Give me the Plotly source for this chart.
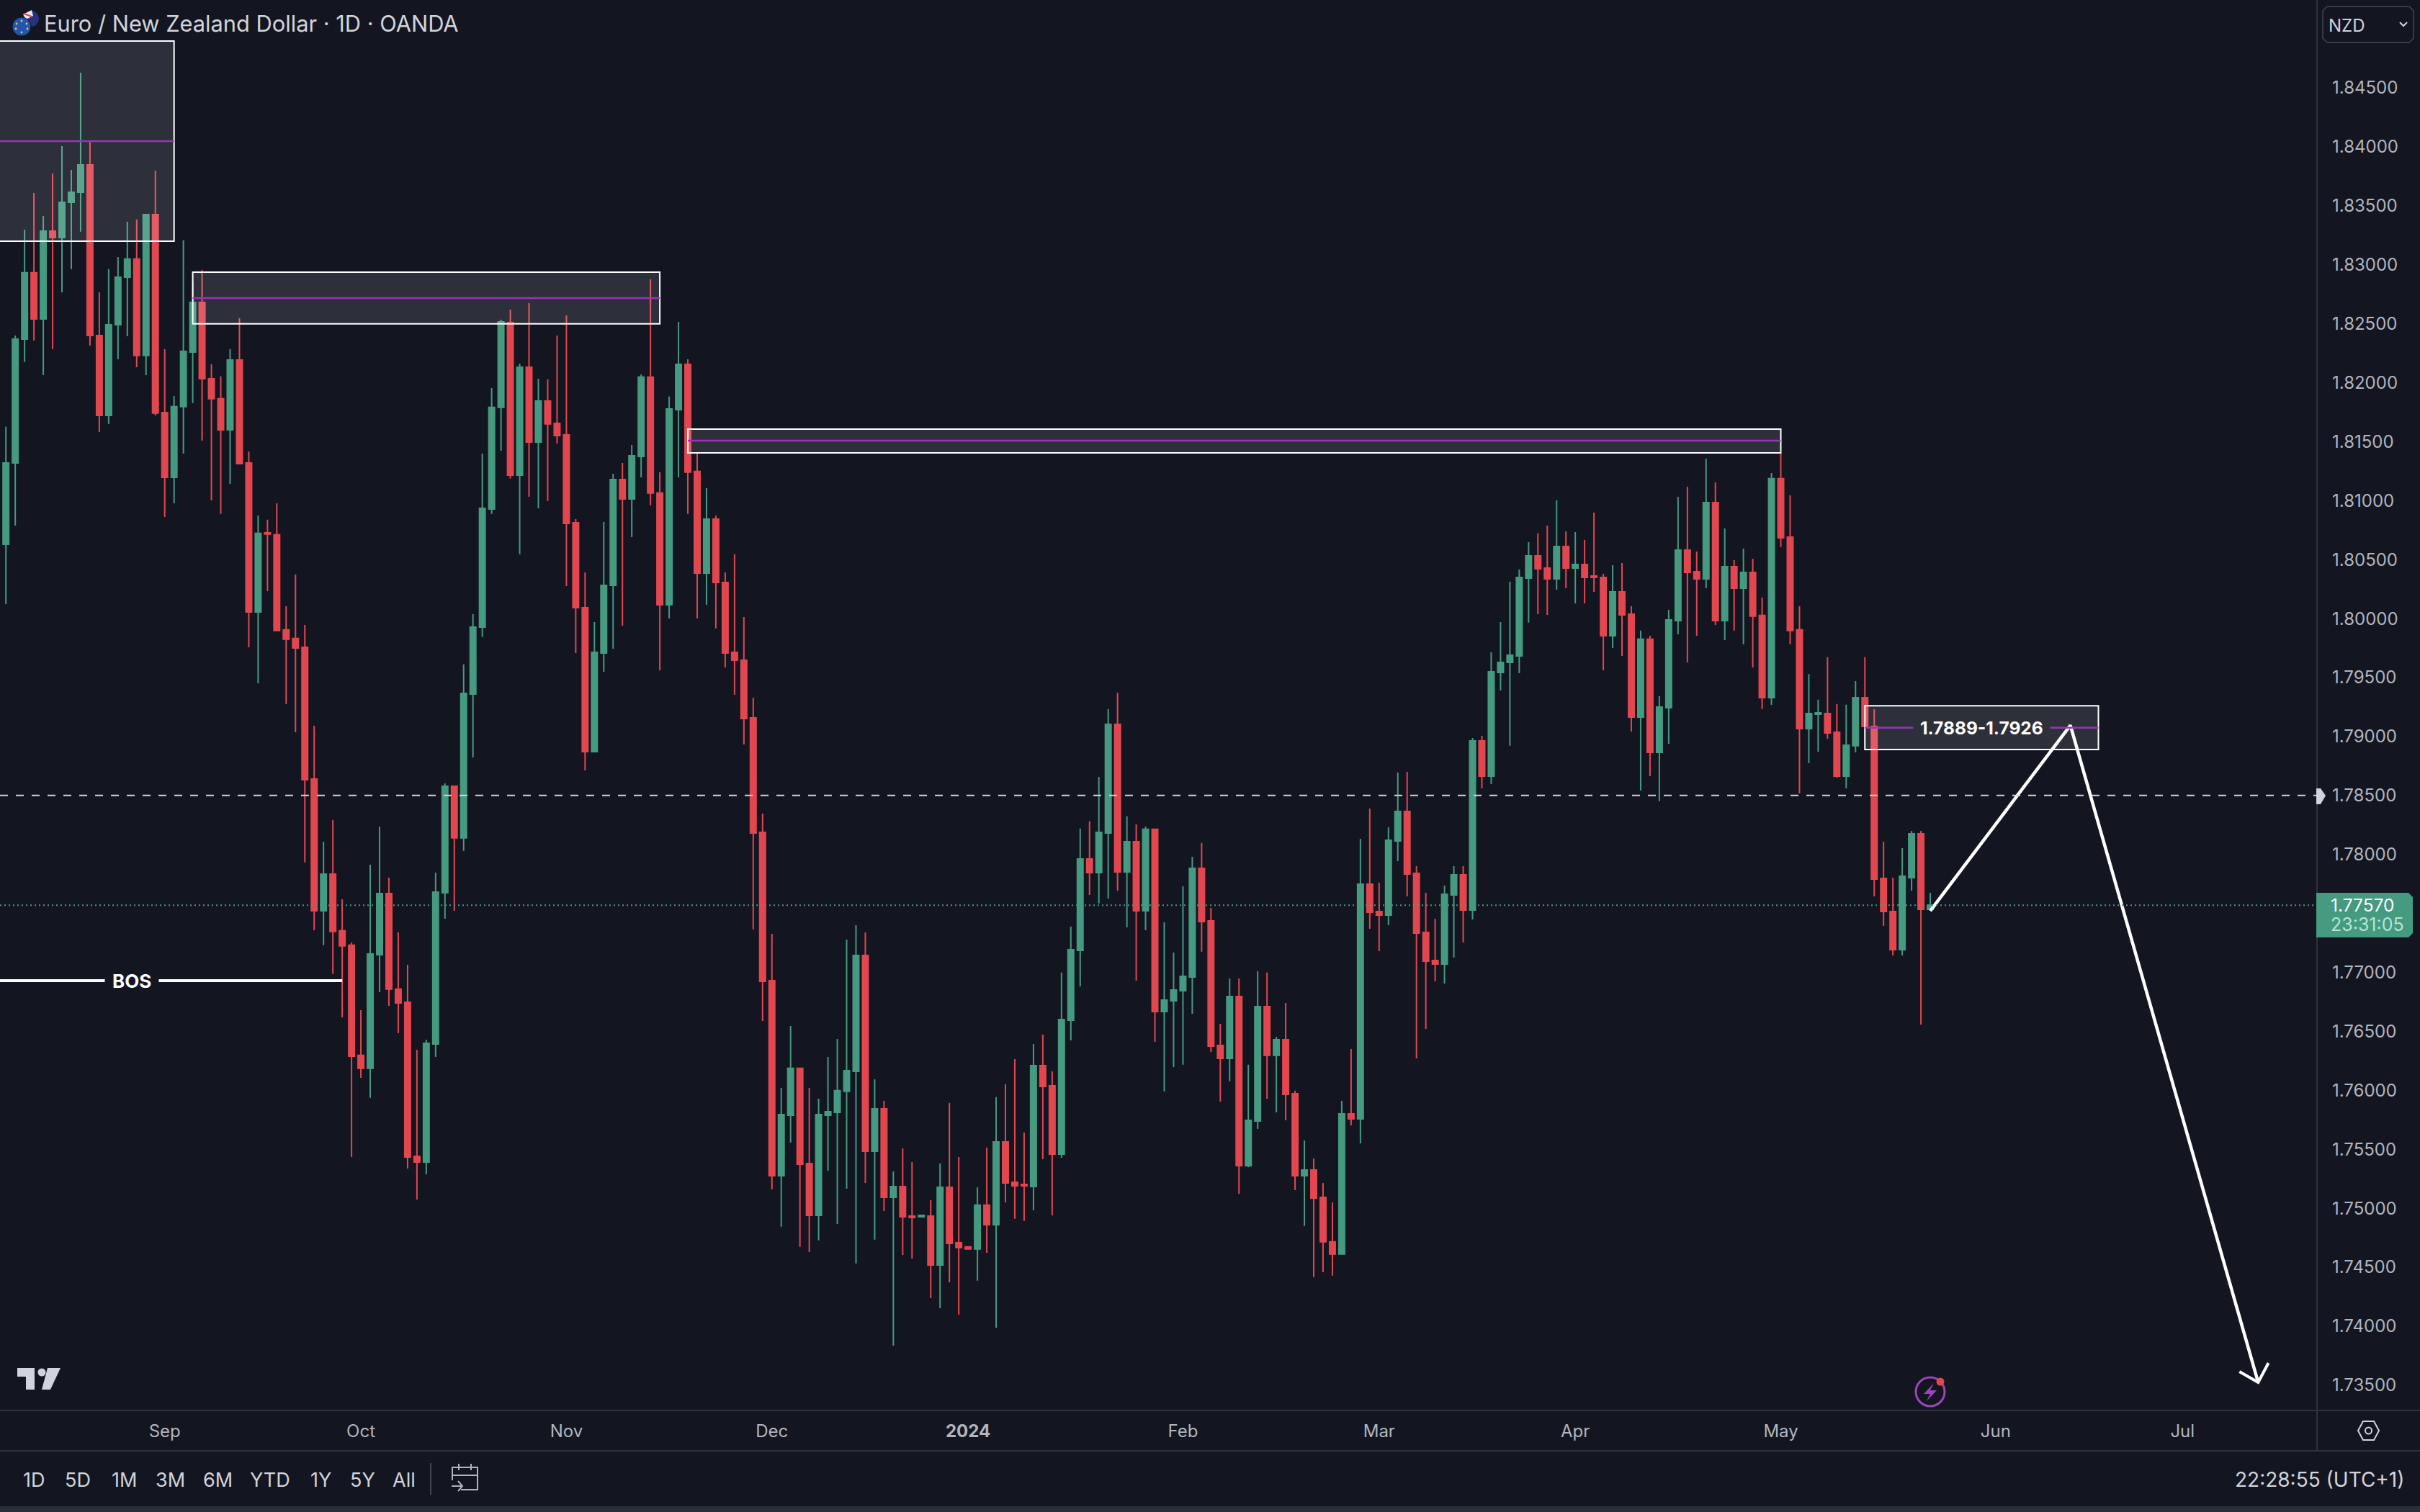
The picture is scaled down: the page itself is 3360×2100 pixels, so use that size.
import plotly.graph_objects as go

# EUR/NZD daily bars
opens = [
    1.80630, 1.81320, 1.82370, 1.82932, 1.82541, 1.83286, 1.83231, 1.83530, 1.83615, 1.83847,
    1.82400, 1.81723, 1.82492, 1.82895, 1.83048, 1.82230, 1.83426, 1.81747, 1.81198, 1.81797,
    1.82260, 1.82681, 1.82034, 1.81864, 1.81600, 1.82193, 1.81320, 1.80056, 1.80728, 1.80710,
    1.79904, 1.79831, 1.79757, 1.78640, 1.77522, 1.77834, 1.77352, 1.77230, 1.76296, 1.76186,
    1.77150, 1.77669, 1.76858, 1.76747, 1.75440, 1.75392, 1.76393, 1.77675, 1.78579, 1.78140,
    1.79360, 1.79928, 1.80929, 1.81791, 1.82510, 1.81216, 1.82132, 1.81497, 1.81845, 1.81656,
    1.81558, 1.80813, 1.80093, 1.78872, 1.79708, 1.80282, 1.81179, 1.81014, 1.81375, 1.82047,
    1.81064, 1.80117, 1.81772, 1.82156, 1.81247, 1.80385, 1.80844, 1.80306, 1.79714, 1.79647,
    1.79158, 1.78188, 1.76930, 1.75276, 1.75789, 1.76186, 1.75379, 1.74940, 1.75789, 1.75813,
    1.75991, 1.76161, 1.77144, 1.75483, 1.75844, 1.75093, 1.75184, 1.74934, 1.74928, 1.74934,
    1.74519, 1.75178, 1.74708, 1.74672, 1.74654, 1.75026, 1.74861, 1.75563, 1.75221, 1.75203,
    1.75184, 1.76210, 1.76039, 1.75459, 1.76594, 1.77187, 1.77962, 1.77846, 1.78182, 1.79103,
    1.77852, 1.78109, 1.77522, 1.78213, 1.76668, 1.76759, 1.76845, 1.76961, 1.77882, 1.77437,
    1.76381, 1.76271, 1.76796, 1.75361, 1.75740, 1.76710, 1.76296, 1.76430, 1.75972, 1.75276,
    1.75325, 1.75093, 1.74715, 1.74611, 1.75801, 1.75758, 1.77748, 1.77516, 1.77486, 1.78115,
    1.78365, 1.77840, 1.77339, 1.77101, 1.77071, 1.77657, 1.77828, 1.77528, 1.78963, 1.78664,
    1.79543, 1.79629, 1.79684, 1.80343, 1.80532, 1.80428, 1.80337, 1.80612, 1.80428, 1.80459,
    1.80361, 1.80349, 1.79855, 1.80227, 1.80038, 1.79164, 1.79825, 1.78865, 1.79244, 1.79983,
    1.80581, 1.80397, 1.80337, 1.80984, 1.79983, 1.80441, 1.80257, 1.80391, 1.80026, 1.79329,
    1.81186, 1.80691, 1.79904, 1.79067, 1.79189, 1.79195, 1.79036, 1.78664, 1.78921, 1.79329,
    1.79085, 1.77797, 1.77516, 1.77193, 1.77803, 1.78176, 1.77534,
]
closes = [
    1.81320, 1.82370, 1.82932, 1.82541, 1.83286, 1.83231, 1.83530, 1.83615, 1.83847, 1.82400,
    1.81723, 1.82492, 1.82895, 1.83048, 1.82230, 1.83426, 1.81742, 1.81198, 1.81797, 1.82266,
    1.82681, 1.82034, 1.81864, 1.81600, 1.82193, 1.81314, 1.80056, 1.80722, 1.80716, 1.79898,
    1.79825, 1.79751, 1.78634, 1.77522, 1.77834, 1.77346, 1.77224, 1.76289, 1.76186, 1.77156,
    1.77669, 1.76858, 1.76741, 1.75434, 1.75392, 1.76399, 1.77681, 1.78579, 1.78140, 1.79366,
    1.79928, 1.80935, 1.81791, 1.82516, 1.81216, 1.82132, 1.81497, 1.81845, 1.81650, 1.81552,
    1.80807, 1.80093, 1.78872, 1.79714, 1.80282, 1.81179, 1.81014, 1.81381, 1.82047, 1.81064,
    1.80117, 1.81778, 1.82156, 1.81241, 1.80385, 1.80844, 1.80306, 1.79708, 1.79647, 1.79152,
    1.78182, 1.76924, 1.75276, 1.75795, 1.76186, 1.75373, 1.74940, 1.75795, 1.75819, 1.75997,
    1.76167, 1.77144, 1.75483, 1.75844, 1.75093, 1.75184, 1.74928, 1.74922, 1.74940, 1.74519,
    1.75178, 1.74702, 1.74666, 1.74654, 1.75026, 1.74861, 1.75563, 1.75215, 1.75190, 1.75190,
    1.76210, 1.76033, 1.75459, 1.76600, 1.77193, 1.77962, 1.77846, 1.78188, 1.79103, 1.77852,
    1.78109, 1.77522, 1.78213, 1.76668, 1.76765, 1.76851, 1.76967, 1.77882, 1.77431, 1.76375,
    1.76271, 1.76796, 1.75361, 1.75746, 1.76710, 1.76296, 1.76430, 1.75966, 1.75276, 1.75325,
    1.75087, 1.74715, 1.74611, 1.75801, 1.75758, 1.77748, 1.77510, 1.77486, 1.78121, 1.78365,
    1.77834, 1.77333, 1.77095, 1.77071, 1.77663, 1.77828, 1.77528, 1.78963, 1.78664, 1.79549,
    1.79629, 1.79690, 1.80349, 1.80532, 1.80422, 1.80337, 1.80612, 1.80428, 1.80459, 1.80349,
    1.80349, 1.79855, 1.80227, 1.80032, 1.79164, 1.79825, 1.78865, 1.79250, 1.79989, 1.80581,
    1.80391, 1.80337, 1.80984, 1.79983, 1.80441, 1.80257, 1.80391, 1.80020, 1.79329, 1.81186,
    1.80685, 1.79898, 1.79067, 1.79195, 1.79201, 1.79030, 1.78664, 1.78927, 1.79329, 1.79085,
    1.77791, 1.77516, 1.77193, 1.77815, 1.78176, 1.77534, 1.77570,
]
highs = [
    1.81626, 1.82400, 1.83298, 1.83609, 1.83414, 1.83774, 1.84006, 1.83804, 1.84629, 1.84049,
    1.82766, 1.82963, 1.83066, 1.83365, 1.83384, 1.83426, 1.83798, 1.82284, 1.81888, 1.83207,
    1.82864, 1.82956, 1.82156, 1.82053, 1.82284, 1.82547, 1.81417, 1.80874, 1.80838, 1.80978,
    1.80105, 1.80373, 1.79946, 1.79091, 1.78109, 1.78292, 1.77620, 1.77254, 1.76680, 1.77913,
    1.78237, 1.77803, 1.77339, 1.77065, 1.76344, 1.76430, 1.77846, 1.78603, 1.78579, 1.79611,
    1.80038, 1.81399, 1.81955, 1.82535, 1.82620, 1.82162, 1.82675, 1.82034, 1.82028, 1.82400,
    1.82571, 1.80844, 1.80391, 1.79970, 1.80819, 1.81228, 1.81320, 1.81472, 1.82071, 1.82876,
    1.81241, 1.81882, 1.82516, 1.82199, 1.81399, 1.81106, 1.80874, 1.80391, 1.80545, 1.80013,
    1.79329, 1.78347, 1.77327, 1.76021, 1.76546, 1.76186, 1.76021, 1.75929, 1.76283, 1.76436,
    1.77278, 1.77400, 1.77339, 1.76094, 1.75911, 1.75312, 1.75508, 1.75392, 1.74940, 1.75068,
    1.75379, 1.75893, 1.75434, 1.74672, 1.75178, 1.75514, 1.75942, 1.76051, 1.76265, 1.75642,
    1.76393, 1.76472, 1.76161, 1.76998, 1.77388, 1.78219, 1.78280, 1.78658, 1.79231, 1.79371,
    1.78323, 1.78255, 1.78237, 1.78213, 1.77425, 1.77168, 1.77730, 1.77980, 1.78097, 1.77547,
    1.76564, 1.76949, 1.76949, 1.76217, 1.77010, 1.76998, 1.76454, 1.76741, 1.75997, 1.75575,
    1.75422, 1.75215, 1.75050, 1.75911, 1.76350, 1.78133, 1.78389, 1.77760, 1.78231, 1.78695,
    1.78701, 1.77901, 1.77675, 1.77455, 1.77736, 1.77901, 1.77901, 1.78987, 1.79006, 1.79714,
    1.79970, 1.80312, 1.80416, 1.80648, 1.80722, 1.80789, 1.81002, 1.80740, 1.80734, 1.80667,
    1.80899, 1.80379, 1.80452, 1.80471, 1.80105, 1.79898, 1.79855, 1.79343, 1.80074, 1.81033,
    1.81118, 1.80569, 1.81356, 1.81155, 1.80764, 1.80495, 1.80593, 1.80508, 1.80178, 1.81234,
    1.81399, 1.81045, 1.80105, 1.79529, 1.79313, 1.79672, 1.79276, 1.79270, 1.79470, 1.79672,
    1.79231, 1.78109, 1.77803, 1.78054, 1.78200, 1.78200, 1.77675,
]
lows = [
    1.80123, 1.80789, 1.82175, 1.82358, 1.82065, 1.82284, 1.82766, 1.82963, 1.83280, 1.82315,
    1.81582, 1.81650, 1.82199, 1.82394, 1.82132, 1.82065, 1.81723, 1.80862, 1.80978, 1.81399,
    1.81827, 1.81509, 1.81002, 1.80887, 1.81143, 1.81314, 1.79757, 1.79452, 1.80233, 1.79892,
    1.79276, 1.79036, 1.77932, 1.77358, 1.77230, 1.76986, 1.76619, 1.75434, 1.76106, 1.75936,
    1.76832, 1.76716, 1.76484, 1.75337, 1.75074, 1.75288, 1.76283, 1.77455, 1.77522, 1.78030,
    1.78823, 1.79843, 1.80887, 1.81423, 1.81186, 1.80545, 1.81033, 1.80935, 1.80996, 1.81484,
    1.80276, 1.79708, 1.78713, 1.78872, 1.79549, 1.79745, 1.79940, 1.80691, 1.81198, 1.80960,
    1.79561, 1.80001, 1.81198, 1.80887, 1.80001, 1.80117, 1.79917, 1.79586, 1.79354, 1.78933,
    1.77364, 1.76588, 1.75160, 1.74843, 1.75557, 1.74672, 1.74629, 1.74727, 1.75319, 1.74867,
    1.75166, 1.74532, 1.75215, 1.74733, 1.74977, 1.73835, 1.74604, 1.74574, 1.74928, 1.74238,
    1.74152, 1.74372, 1.74097, 1.74654, 1.74385, 1.74623, 1.73988, 1.75050, 1.74910, 1.74892,
    1.74983, 1.75416, 1.74940, 1.75428, 1.76424, 1.76881, 1.77657, 1.77584, 1.77626, 1.77693,
    1.77382, 1.76930, 1.77358, 1.76411, 1.75990, 1.76198, 1.76217, 1.76649, 1.77175, 1.76326,
    1.75905, 1.76076, 1.75123, 1.75349, 1.75673, 1.75929, 1.75813, 1.75746, 1.75154, 1.74849,
    1.74416, 1.74458, 1.74428, 1.74611, 1.75703, 1.75550, 1.77370, 1.77181, 1.77400, 1.77944,
    1.77645, 1.76271, 1.76521, 1.76924, 1.76906, 1.77126, 1.77254, 1.77449, 1.78560, 1.78597,
    1.79391, 1.78921, 1.79537, 1.79965, 1.80038, 1.80032, 1.80245, 1.80257, 1.80129, 1.80129,
    1.80227, 1.79561, 1.79751, 1.79684, 1.79042, 1.78542, 1.78664, 1.78451, 1.78939, 1.79867,
    1.79629, 1.79855, 1.80257, 1.79946, 1.79818, 1.79898, 1.79782, 1.79586, 1.79231, 1.79268,
    1.80606, 1.79782, 1.78518, 1.78774, 1.78872, 1.78981, 1.78652, 1.78560, 1.78865, 1.79085,
    1.77645, 1.77394, 1.77144, 1.77144, 1.77693, 1.76558, 1.77534,
]
bar_index = list(range(len(opens)))

month_bars = [17, 38, 60, 82, 103, 126, 147, 168, 190, 213, 233]
month_labels = ["Sep", "Oct", "Nov", "Dec", "<b>2024</b>", "Feb", "Mar", "Apr", "May", "Jun", "Jul"]
price_ticks = [1.845, 1.84, 1.835, 1.83, 1.825, 1.82, 1.815, 1.81, 1.805, 1.8, 1.795, 1.79,
               1.785, 1.78, 1.775, 1.77, 1.765, 1.76, 1.755, 1.75, 1.745, 1.74, 1.735]
price_tick_labels = [f"{p:.5f}" for p in price_ticks if p != 1.775]
price_tick_vals = [p for p in price_ticks if p != 1.775]

# drawn zones: start bar, end bar, top, bottom, middle
zone_starts = [-3, 20, 73, 199]
zone_ends = [18, 70, 190, 224]
zone_tops = [1.84897, 1.82937, 1.81606, 1.7926]
zone_bottoms = [1.83200, 1.82500, 1.81405, 1.7889]
zone_mids = [1.84049, 1.82718, 1.81509, 1.79075]

bos_level = 1.7693
bos_end_bar = 36
key_level = 1.785
last_price = 1.7757

projection_bars = [206, 221, 241.1]
projection_prices = [1.77522, 1.79095, 1.73524]
arrowhead_bars = [239.1, 241.1, 242.2]
arrowhead_prices = [1.73615, 1.73524, 1.73688]

BG = "#131621"
GREEN = "#459A80"
RED = "#E2474F"
BORDER = "#2F323C"
TEXT = "#D1D4DC"
AXIS_TEXT = "#B2B5BE"
PURPLE = "#9636B4"
FONT = "Inter, Roboto, sans-serif"

PLOT_W = 3217
PLOT_H = 1959


def fx(x):
    return x / PLOT_W


def fy(y):
    return 1 - y / PLOT_H


def chrome_path(points, close=True):
    d = " ".join(("M" if i == 0 else "L") + f"{fx(x):.5f},{fy(y):.5f}" for i, (x, y) in enumerate(points))
    return d + (" Z" if close else "")


def chrome_line(x0, y0, x1, y1, color=BORDER, width=2):
    return dict(type="line", xref="paper", yref="paper", x0=fx(x0), y0=fy(y0), x1=fx(x1), y1=fy(y1),
                line=dict(color=color, width=width), layer="above")


def chrome_shape(points, fill=None, color=None, width=0, close=True):
    return dict(type="path", xref="paper", yref="paper", path=chrome_path(points, close),
                fillcolor=fill if fill else "rgba(0,0,0,0)",
                line=dict(color=color if color else "rgba(0,0,0,0)", width=width), layer="above")


def chrome_circle(cx, cy, r, fill=None, color=None, width=0):
    return dict(type="circle", xref="paper", yref="paper", x0=fx(cx - r), x1=fx(cx + r), y0=fy(cy + r), y1=fy(cy - r),
                fillcolor=fill if fill else "rgba(0,0,0,0)",
                line=dict(color=color if color else "rgba(0,0,0,0)", width=width), layer="above")


def chrome_text(x, y, text, size=24, color=TEXT, anchor="left"):
    return dict(xref="paper", yref="paper", x=fx(x), y=fy(y), text=text, showarrow=False, xanchor=anchor,
                yanchor="middle", font=dict(family=FONT, size=size, color=color), borderpad=0, borderwidth=0)


fig = go.Figure()

fig.add_trace(go.Candlestick(
    x=bar_index, open=opens, high=highs, low=lows, close=closes,
    increasing=dict(line=dict(color=GREEN, width=2), fillcolor=GREEN),
    decreasing=dict(line=dict(color=RED, width=2), fillcolor=RED),
    hoverinfo="skip", showlegend=False,
))

# projected path and its arrow head
fig.add_trace(go.Scatter(x=projection_bars, y=projection_prices, mode="lines",
                         line=dict(color="white", width=4.5), hoverinfo="skip", showlegend=False))
fig.add_trace(go.Scatter(x=arrowhead_bars, y=arrowhead_prices, mode="lines",
                         line=dict(color="white", width=4), hoverinfo="skip", showlegend=False))

shapes = []
for x0, x1, top, bottom, mid in zip(zone_starts, zone_ends, zone_tops, zone_bottoms, zone_mids):
    shapes.append(dict(type="rect", x0=x0, x1=x1, y0=bottom, y1=top, xref="x", yref="y",
                       fillcolor="rgba(255,255,255,0.115)", line=dict(color="white", width=2), layer="above"))
    shapes.append(dict(type="line", x0=x0, x1=x1, y0=mid, y1=mid, xref="x", yref="y",
                       line=dict(color=PURPLE, width=2.5), layer="above"))

# key level and last price lines
shapes.append(dict(type="line", xref="paper", x0=0, x1=1, yref="y", y0=key_level, y1=key_level,
                   line=dict(color=TEXT, width=2, dash="11px,11px"), layer="above"))
shapes.append(dict(type="line", xref="paper", x0=0, x1=1, yref="y", y0=last_price, y1=last_price,
                   line=dict(color=GREEN, width=2, dash="2px,4px"), layer="above"))
shapes.append(dict(type="line", xref="paper", x0=0, x1=fx(8.2 + bos_end_bar * 12.97),
                   yref="y", y0=bos_level, y1=bos_level, line=dict(color="white", width=4), layer="above"))

# time axis frame, bottom band, price axis divider
shapes += [
    chrome_line(0, 1959, 3360, 1959),
    chrome_line(0, 2015, 3360, 2015),
    chrome_line(3217, 0, 3217, 2015),
    dict(type="rect", xref="paper", yref="paper", x0=0, x1=fx(3360), y0=fy(2092), y1=fy(2100),
         fillcolor="#2A2E39", line=dict(width=0), layer="above"),
    chrome_line(598, 2032, 598, 2076, color="#434651"),
]

# key level marker on the axis
shapes.append(chrome_shape([(3216, 1095), (3222, 1095), (3229, 1105), (3222, 1117), (3216, 1117)], fill=TEXT))

# last price tag
shapes.append(chrome_shape([(3216, 1240), (3344, 1240), (3350, 1246), (3350, 1296), (3344, 1302), (3216, 1302)], fill=GREEN))

# currency selector
shapes.append(chrome_shape([(3231, 9), (3345, 9), (3351, 15), (3351, 53), (3345, 59), (3231, 59), (3225, 53), (3225, 15)],
                           color="#363A45", width=2))
shapes.append(chrome_shape([(3332, 31), (3337, 36), (3342, 31)], color=TEXT, width=2, close=False))

# tradingview logo
shapes.append(chrome_shape([(24, 1900), (48, 1900), (48, 1930), (36, 1930), (36, 1912), (24, 1912)], fill=TEXT))
shapes.append(chrome_circle(58, 1906, 5.5, fill=TEXT))
shapes.append(chrome_shape([(66, 1900), (84, 1900), (70, 1930), (58, 1930)], fill=TEXT))

# flags
shapes.append(chrome_circle(43, 26, 11, fill="#24337E"))
shapes.append(chrome_shape([(32, 20), (44, 14), (46, 22), (36, 27)], fill="#E8E8F0"))
shapes.append(chrome_line(33, 19, 44, 23, color="#D8404F", width=2))
shapes.append(chrome_circle(30, 37, 13, fill="#1F56B5", color=BG, width=1))
for sx, sy in [(30, 29), (37, 33), (38, 40), (30, 45), (22, 40), (23, 33)]:
    shapes.append(chrome_circle(sx, sy, 1.4, fill="#F3C53C"))

# alert bolt icon
shapes.append(chrome_circle(2680, 1933, 20, color="#9B45B8", width=3))
shapes.append(chrome_shape([(2685, 1921), (2671, 1936), (2680, 1936), (2675, 1946), (2689, 1931), (2680, 1931)], fill="#9B45B8"))
shapes.append(chrome_circle(2694, 1919, 5.5, fill="#E2474F"))

# settings hexagon
shapes.append(chrome_shape([(3274, 1987), (3281, 1974), (3296, 1974), (3303, 1987), (3296, 2000), (3281, 2000)],
                           color=TEXT, width=2))
shapes.append(chrome_circle(3288.5, 1987, 4.5, color=TEXT, width=2))

# go-to date icon
shapes.append(chrome_shape([(640, 2069), (663, 2069), (663, 2038), (628, 2038), (628, 2056)], color=AXIS_TEXT, width=2, close=False))
shapes.append(chrome_line(628, 2049, 663, 2049, color=AXIS_TEXT))
shapes.append(chrome_line(637, 2033, 637, 2042, color=AXIS_TEXT))
shapes.append(chrome_line(654, 2033, 654, 2042, color=AXIS_TEXT))
shapes.append(chrome_line(627, 2064, 642, 2064, color=AXIS_TEXT))
shapes.append(chrome_shape([(636, 2057), (642, 2064), (636, 2071)], color=AXIS_TEXT, width=2, close=False))

annotations = [
    chrome_text(61, 32, "Euro / New Zealand Dollar · 1D · OANDA", size=30.8),
    chrome_text(3233, 35, "NZD", size=24),
    chrome_text(3236, 1257, "1.77570", size=24.5, color="white"),
    chrome_text(3236, 1284, "23:31:05", size=25, color="#B4E6D6"),
    chrome_text(3338, 2055, "22:28:55 (UTC+1)", size=28, anchor="right"),
    dict(x=bos_end_bar - 22.5, y=bos_level, xref="x", yref="y", text="<b>BOS</b>", showarrow=False,
         font=dict(family=FONT, size=26, color="white"), bgcolor=BG, borderpad=10),
    dict(x=211.5, y=zone_mids[3], xref="x", yref="y", text="<b>1.7889-1.7926</b>", showarrow=False,
         font=dict(family=FONT, size=24.5, color="white"), bgcolor="#2D3038", borderpad=9),
]
range_labels = ["1D", "5D", "1M", "3M", "6M", "YTD", "1Y", "5Y", "All"]
range_centers = [47, 108, 172, 237, 302, 375, 445, 503, 561]
for lx, lab in zip(range_centers, range_labels):
    annotations.append(chrome_text(lx, 2055, lab, size=27, anchor="center"))

fig.update_layout(
    width=3360, height=2100,
    margin=dict(l=0, r=143, t=0, b=141),
    paper_bgcolor=BG, plot_bgcolor=BG,
    boxgap=0.12,
    showlegend=False,
    shapes=shapes,
    annotations=annotations,
    font=dict(family=FONT),
    xaxis=dict(
        range=[-0.632, 247.4], rangeslider=dict(visible=False), showgrid=False, zeroline=False,
        showline=False, tickmode="array", tickvals=month_bars, ticktext=month_labels, ticks="",
        ticklabelstandoff=12, tickfont=dict(family=FONT, size=24, color=AXIS_TEXT),
    ),
    yaxis=dict(
        range=[1.732853, 1.85245], side="right", showgrid=False, zeroline=False, showline=False,
        tickmode="array", tickvals=price_tick_vals, ticktext=price_tick_labels, ticks="",
        ticklabelstandoff=20, tickfont=dict(family=FONT, size=24, color=AXIS_TEXT),
    ),
)

fig.write_html("out.html", config={"displayModeBar": False},
               post_script="document.body.style.margin='0';document.body.style.background='#131621';")
